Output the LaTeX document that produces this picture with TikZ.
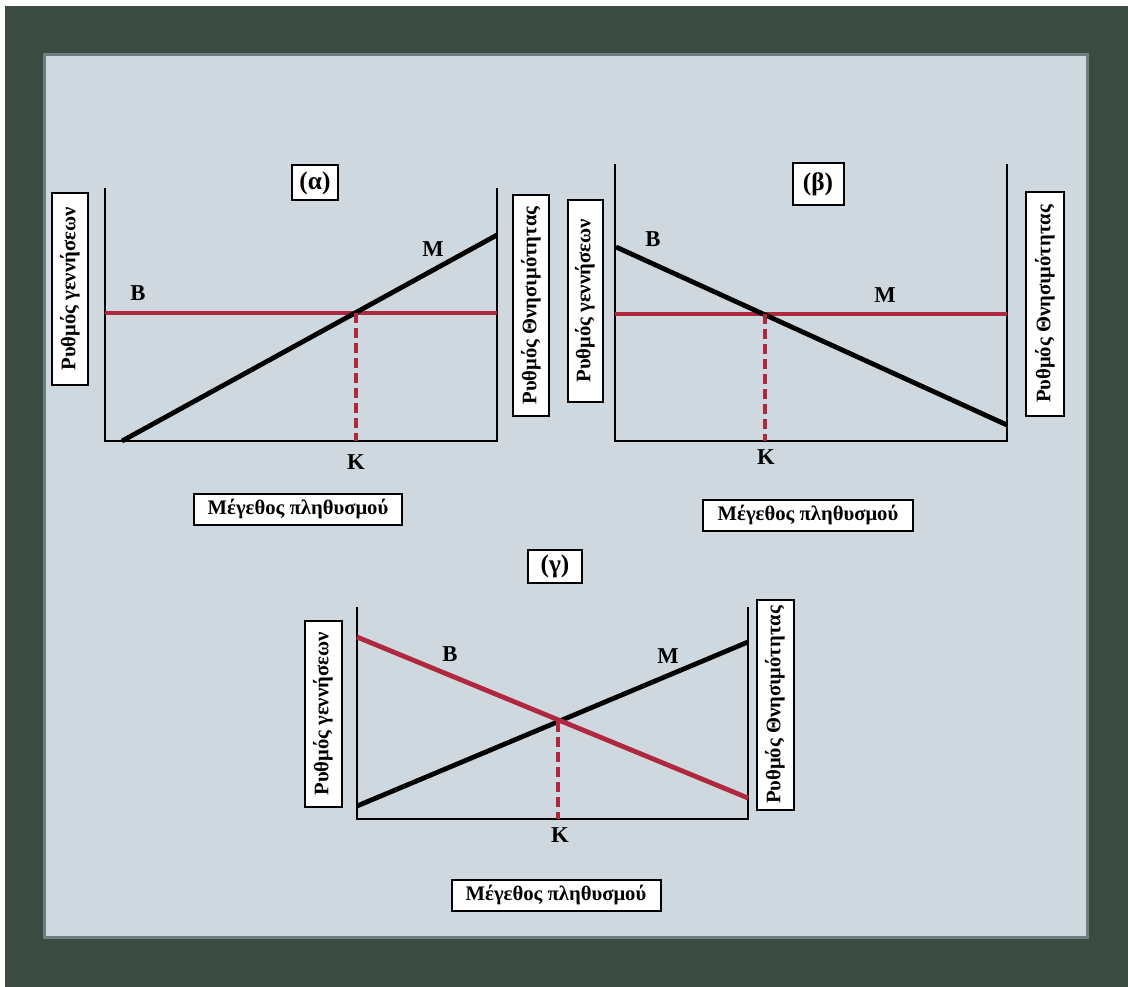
\documentclass[tikz,border=0pt]{standalone}
\usepackage{fontspec}
\setmainfont{Liberation Serif}

\definecolor{framegreen}{RGB}{59,75,66}
\definecolor{panelgray}{RGB}{207,216,223}
\definecolor{panelrim}{RGB}{110,127,128}
\definecolor{ratered}{RGB}{176,39,64}

\tikzset{
	labelbox/.style={draw=black, line width=1.5pt, fill=white, inner sep=0pt,
		font=\fontsize{15.5}{18}\selectfont\bfseries},
	titlebox/.style={draw=black, line width=1.5pt, fill=white, inner sep=0pt,
		font=\fontsize{19}{22}\selectfont\bfseries},
	tag/.style={inner sep=0pt, font=\fontsize{17}{20}\selectfont\bfseries},
	axisline/.style={line width=2.2pt, black},
	blackrate/.style={line width=3.6pt, black},
	redrate/.style={line width=3.6pt, ratered},
	kline/.style={line width=2.5pt, ratered, dash pattern=on 7.5pt off 3.75pt}
}

\begin{document}
\begin{tikzpicture}[x=0.75pt,y=-0.75pt]
	\useasboundingbox (0,0) rectangle (1128,987);
	\fill[white] (0,0) rectangle (1128,987);
	\fill[framegreen] (5,6) rectangle (1128,987);
	\draw[panelrim, line width=2.5pt, fill=panelgray] (44.5,54.5) rectangle (1087.5,937.5);

	% (a)
	\coordinate (a-tl) at (105,188);
	\coordinate (a-bl) at (105,441);
	\coordinate (a-br) at (497,441);
	\coordinate (a-tr) at (497,188);
	\coordinate (a-m0) at (122,441);
	\coordinate (a-m1) at (497,235);
	\coordinate (a-b0) at (105,313);
	\coordinate (a-b1) at (497,313);
	\coordinate (a-k0) at (356,313);
	\coordinate (a-k1) at (356,441);
	\draw[axisline] (a-tl) -- (a-bl) -- (a-br) -- (a-tr);
	\draw[redrate] (a-b0) -- (a-b1);
	\draw[blackrate] (a-m0) -- (a-m1);
	\draw[kline] (a-k0) -- (a-k1);
	\node[tag] (a-B) at (138,293) {B};
	\node[tag] (a-M) at (433,249) {M};
	\node[tag] (a-K) at (356,462) {K};
	\node[titlebox, minimum width=34.5pt, minimum height=26.25pt] (a-title) at (315,183) {(α)};
	\node[labelbox, rotate=90, minimum width=144pt, minimum height=27pt] (a-births) at (70,289) {Ρυθμός γεννήσεων};
	\node[labelbox, rotate=90, minimum width=165.75pt, minimum height=27pt] (a-deaths) at (531,305.5) {Ρυθμός Θνησιμότητας};
	\node[labelbox, minimum width=156pt, minimum height=23.25pt] (a-size) at (298,509) {Μέγεθος πληθυσμού};

	% (b)
	\coordinate (b-tl) at (615,164);
	\coordinate (b-bl) at (615,441);
	\coordinate (b-br) at (1007,441);
	\coordinate (b-tr) at (1007,164);
	\coordinate (b-b0) at (616,247);
	\coordinate (b-b1) at (1007,425);
	\coordinate (b-m0) at (615,314);
	\coordinate (b-m1) at (1007,314);
	\coordinate (b-k0) at (765,314);
	\coordinate (b-k1) at (765,441);
	\draw[axisline] (b-tl) -- (b-bl) -- (b-br) -- (b-tr);
	\draw[redrate] (b-m0) -- (b-m1);
	\draw[blackrate] (b-b0) -- (b-b1);
	\draw[kline] (b-k0) -- (b-k1);
	\node[tag] (b-B) at (653,239) {B};
	\node[tag] (b-M) at (885,295) {M};
	\node[tag] (b-K) at (766,457) {K};
	\node[titlebox, minimum width=38.25pt, minimum height=31.5pt] (b-title) at (818,184) {(β)};
	\node[labelbox, rotate=90, minimum width=151.5pt, minimum height=26.25pt] (b-births) at (585,301) {Ρυθμός γεννήσεων};
	\node[labelbox, rotate=90, minimum width=168pt, minimum height=28.5pt] (b-deaths) at (1045,304) {Ρυθμός Θνησιμότητας};
	\node[labelbox, minimum width=157.5pt, minimum height=23.25pt] (b-size) at (808,515) {Μέγεθος πληθυσμού};

	% (c)
	\coordinate (c-tl) at (357,607);
	\coordinate (c-bl) at (357,819);
	\coordinate (c-br) at (748,819);
	\coordinate (c-tr) at (748,607);
	\coordinate (c-m0) at (357,806);
	\coordinate (c-m1) at (748,642);
	\coordinate (c-b0) at (357,637);
	\coordinate (c-b1) at (748,798);
	\coordinate (c-k0) at (558,722);
	\coordinate (c-k1) at (558,819);
	\draw[axisline] (c-tl) -- (c-bl) -- (c-br) -- (c-tr);
	\draw[blackrate] (c-m0) -- (c-m1);
	\draw[redrate] (c-b0) -- (c-b1);
	\draw[kline] (c-k0) -- (c-k1);
	\node[tag] (c-B) at (450,654) {B};
	\node[tag] (c-M) at (668,656) {M};
	\node[tag] (c-K) at (560,835) {K};
	\node[titlebox, minimum width=40.5pt, minimum height=24.75pt] (c-title) at (555,566) {(γ)};
	\node[labelbox, rotate=90, minimum width=139.5pt, minimum height=27.75pt] (c-births) at (323,714) {Ρυθμός γεννήσεων};
	\node[labelbox, rotate=90, minimum width=157.5pt, minimum height=27.75pt] (c-deaths) at (775,705) {Ρυθμός Θνησιμότητας};
	\node[labelbox, minimum width=156.75pt, minimum height=23.25pt] (c-size) at (556,895) {Μέγεθος πληθυσμού};
\end{tikzpicture}
\end{document}
